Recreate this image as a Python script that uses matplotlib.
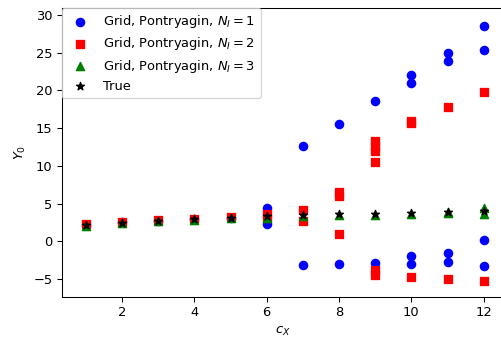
import matplotlib
matplotlib.use("Agg")
import matplotlib.pyplot as plt

# Grid / Pontryagin estimates of Y_0 for each c_X, grouped by number of iterations N_I
cx_n1 = [1, 2, 3, 4, 5, 6, 6, 7, 7, 8, 8, 9, 9, 10, 10, 10, 10, 11, 11, 11, 11, 12, 12, 12, 12]
y0_n1 = [2.2, 2.55, 2.75, 3.0, 3.15, 4.4, 2.3, 12.7, -3.1, 15.6, -3.05, 18.6, -2.85,
         22.1, 21.0, -2.0, -3.05, 25.0, 23.9, -1.6, -2.7, 28.6, 25.3, 0.15, -3.2]

cx_n2 = [1, 2, 3, 4, 5, 6, 6, 7, 7, 8, 8, 8, 9, 9, 9, 9, 9, 9, 10, 10, 10, 11, 11, 12, 12]
y0_n2 = [2.25, 2.6, 2.8, 3.0, 3.2, 3.6, 3.1, 4.2, 2.7, 6.6, 6.0, 0.95,
         13.3, 12.6, 12.0, 10.5, -3.75, -4.5, 16.0, 15.7, -4.7, 17.8, -4.95, 19.8, -5.25]

cx_n3 = [1, 2, 3, 4, 5, 6, 7, 8, 9, 10, 11, 11, 12, 12]
y0_n3 = [2.05, 2.4, 2.65, 2.85, 3.05, 3.1, 3.35, 3.45, 3.5, 3.6, 3.75, 3.95, 4.4, 3.6]

cx_true = [1, 2, 3, 4, 5, 6, 7, 8, 9, 10, 11, 12]
y0_true = [2.15, 2.5, 2.72, 2.95, 3.12, 3.33, 3.47, 3.58, 3.63, 3.72, 3.84, 4.05]

DPI = 94
fig = plt.figure(figsize=(502 / DPI, 341 / DPI), dpi=DPI)
ax = fig.add_axes([0.1229, 0.128, 0.8803, 0.8485])

ax.scatter(cx_n1, y0_n1, color="b", marker="o", s=40, label=r"Grid, Pontryagin, $N_I=1$")
ax.scatter(cx_n2, y0_n2, color="r", marker="s", s=40, label=r"Grid, Pontryagin, $N_I=2$")
ax.scatter(cx_n3, y0_n3, color="g", marker="^", s=40, label=r"Grid, Pontryagin, $N_I=3$")
ax.scatter(cx_true, y0_true, color="k", marker="*", s=40, label="True")

ax.set_xlim(0.333, 12.55)
ax.set_ylim(-7.42, 30.93)
ax.set_xticks([2, 4, 6, 8, 10, 12])
ax.set_yticks([-5, 0, 5, 10, 15, 20, 25, 30])
ax.set_xlabel(r"$c_X$")
ax.set_ylabel(r"$Y_0$")
ax.legend(loc="upper left", borderaxespad=0, labelspacing=0.4)

fig.savefig("out.png", dpi=DPI)
